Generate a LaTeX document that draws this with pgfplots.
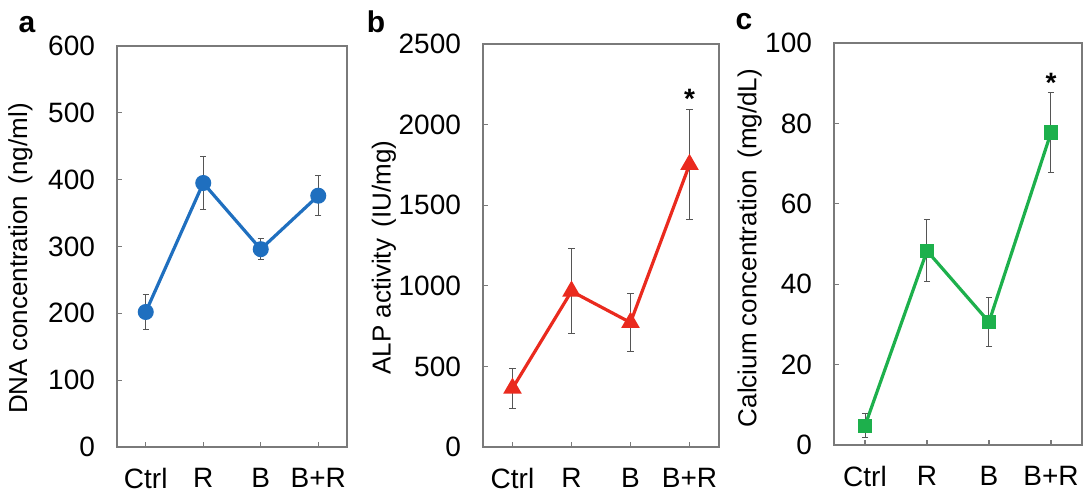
\documentclass[border=0pt]{standalone}
\usepackage{fontspec}
\setmainfont{Liberation Sans}
\usepackage{pgfplots}
\pgfplotsset{compat=1.18}

\definecolor{cblue}{HTML}{1F6FBF}
\definecolor{cred}{HTML}{EA2A1E}
\definecolor{cgreen}{HTML}{1DB04C}
\definecolor{cframe}{HTML}{7A7A7A}
\definecolor{cerr}{HTML}{555555}

\pgfplotsset{
  panel/.style={
    scale only axis,
    clip=false,
    anchor=south west,
    xmin=-0.5, xmax=3.5, ymin=0,
    xtick={0,1,2,3}, xticklabels={Ctrl,R,B,B+R},
    tick align=inside, xtick pos=bottom, ytick pos=left,
    major tick length=2.5pt,
    axis line style={cframe, line width=0.6pt},
    every tick/.style={cframe, line width=0.6pt},
    ticklabel style={font=\fontsize{14}{16}\selectfont},
    yticklabel style={xshift=-7.5pt},
    xticklabel style={yshift=-7pt},
    label style={font=\fontsize{13}{16}\selectfont},
    /pgf/number format/assume math mode=true,
    /pgf/number format/1000 sep={},
  },
  errs/.style={
    error bars/.cd, y dir=both, y explicit,
    error bar style={cerr, line width=0.5pt},
    error mark options={rotate=90, cerr, mark size=1.6pt, line width=0.5pt},
  },
}

\begin{document}
\begin{tikzpicture}
\useasboundingbox (0,0) rectangle (542pt,247pt);

% a: DNA
\begin{axis}[panel, at={(58.5pt,23.5pt)}, width=115pt, height=200.5pt,
    ymax=600, ytick={0,100,...,600},
    ylabel={DNA concentration\, (ng/ml)},
    ylabel style={at={(axis description cs:-0.42,0.47)}, anchor=center}]
  \addplot[cblue, line width=1.6pt, mark=*, mark size=3.2pt,
    mark options={solid}, errs] coordinates {
    (0,202) +- (0,26)
    (1,395) +- (0,39)
    (2,296) +- (0,16)
    (3,376) +- (0,30)
  };
\end{axis}

% b: ALP
\begin{axis}[panel, at={(241.5pt,23.5pt)}, width=118pt, height=201.5pt,
    ymax=2500, ytick={0,500,...,2500},
    ylabel={ALP activity\, (IU/mg)},
    ylabel style={at={(axis description cs:-0.42,0.47)}, anchor=center}]
  \addplot[cred, line width=1.6pt, mark=triangle*, mark size=3.8pt,
    mark options={solid}, errs] coordinates {
    (0,364) +- (0,126)
    (1,966) +- (0,264)
    (2,772) +- (0,181)
    (3,1752) +- (0,342)
  };
  \node[font=\bfseries\fontsize{14}{16}\selectfont] at (axis cs:3,2160) {*};
\end{axis}

% c: Calcium
\begin{axis}[panel, at={(417pt,24.5pt)}, width=124pt, height=201pt,
    ymax=100, ytick={0,20,...,100},
    ylabel={Calcium concentration\, (mg/dL)},
    ylabel style={at={(axis description cs:-0.34,0.49)}, anchor=center}]
  \addplot[cgreen, line width=1.6pt, mark=square*, mark size=2.8pt,
    mark options={solid}, errs] coordinates {
    (0,4.8) +- (0,3)
    (1,48.3) +- (0,7.7)
    (2,30.6) +- (0,6.2)
    (3,77.7) +- (0,9.9)
  };
  \node[font=\bfseries\fontsize{14}{16}\selectfont] at (axis cs:3,90) {*};
\end{axis}

% panel letters
\node[font=\bfseries\fontsize{15}{18}\selectfont] at (13.5pt,234.5pt) {a};
\node[font=\bfseries\fontsize{15}{18}\selectfont] at (188pt,236pt) {b};
\node[font=\bfseries\fontsize{15}{18}\selectfont] at (372pt,236pt) {c};
\end{tikzpicture}
\end{document}
